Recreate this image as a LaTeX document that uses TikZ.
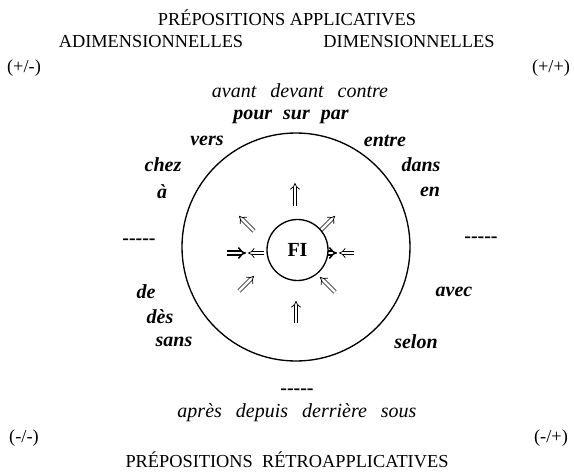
\documentclass[tikz,border=0pt]{standalone}
\usepackage{fontspec}
\setmainfont{Liberation Serif}
\usetikzlibrary{arrows.meta}

\tikzset{
  label/.style={font=\fontsize{11}{13}\selectfont, inner sep=0pt},
  prep/.style={font=\fontsize{12}{14}\selectfont\itshape, inner sep=0pt},
  bprep/.style={font=\fontsize{12}{14}\selectfont\bfseries\itshape, inner sep=0pt},
  gap/.style={font=\fontsize{12}{14}\selectfont\bfseries, inner sep=0pt},
  dbl/.style={double, double distance=1.6pt, line width=0.45pt, -{Implies}},
  bdbl/.style={double, double distance=1.4pt, line width=0.9pt, -{Implies}}
}
\def\wsp{\hspace{0.7em}}
\def\dashes{-{}-{}-{}-{}-}

\begin{document}
\begin{tikzpicture}[x=0.6pt, y=-0.6pt]
\useasboundingbox (0, 0) rectangle (574, 475);

% TITLES
\node[label] (top) at (287, 18) {PRÉPOSITIONS APPLICATIVES};
\node[label] (adim) at (151, 42) {ADIMENSIONNELLES};
\node[label] (dim) at (409, 42) {DIMENSIONNELLES};
\node[label] (pm) at (24, 68) {(+/-)};
\node[label] (pp) at (551, 68) {(+/+)};
\node[label] (mm) at (24, 438) {(-/-)};
\node[label] (mp) at (551, 438) {(-/+)};
\node[label] (bottom) at (287, 460) {PRÉPOSITIONS\hspace{0.25em} RÉTROAPPLICATIVES};

% CIRCLES
\draw[thick] (296, 247) circle (114);

% arrows round FI
\draw[dbl] (295, 206) -- (295, 183);
\draw[dbl] (296, 323) -- (296, 301);
\draw[dbl] (254, 231) -- (239, 216);
\draw[dbl] (320, 231) -- (335, 216);
\draw[dbl] (239, 291) -- (254, 276);
\draw[dbl] (335, 292) -- (320, 277);
\draw[bdbl] (227, 253) -- (246, 253);
\draw[dbl] (264, 253) -- (248, 253);
\draw[bdbl] (312, 253) -- (337, 253);
\draw[dbl] (354, 253) -- (339, 253);

% centre
\node[circle, draw, thick, fill=white, minimum size=36.6pt, inner sep=0pt,
  font=\fontsize{12}{14}\selectfont\bfseries] (fi) at (297.5, 250) {FI};

% PREPOSITIONS
% top
\node[prep] (avant) at (300, 91) {avant\wsp devant\wsp contre};
\node[bprep] (pour) at (291, 117) {pour\hspace{0.55em}sur\hspace{0.55em}par};
% left
\node[bprep] (vers) at (207, 141) {vers};
\node[bprep] (chez) at (163, 165) {chez};
\node[bprep] (a) at (162, 192) {à};
\node[gap] (lgap) at (139, 242) {\dashes};
\node[bprep] (de) at (146, 292) {de};
\node[bprep] (des) at (160, 317) {dès};
\node[bprep] (sans) at (174, 342) {sans};
% right
\node[bprep] (entre) at (385, 141) {entre};
\node[bprep] (dans) at (421, 165) {dans};
\node[bprep] (en) at (430, 192) {en};
\node[gap] (rgap) at (481, 240) {\dashes};
\node[bprep] (avec) at (454, 292) {avec};
\node[bprep] (selon) at (416, 342) {selon};
% bottom
\node[gap] (bgap) at (297, 392) {\dashes};
\node[prep] (apres) at (297, 413) {après\wsp depuis\wsp derrière\wsp sous};

\end{tikzpicture}
\end{document}
